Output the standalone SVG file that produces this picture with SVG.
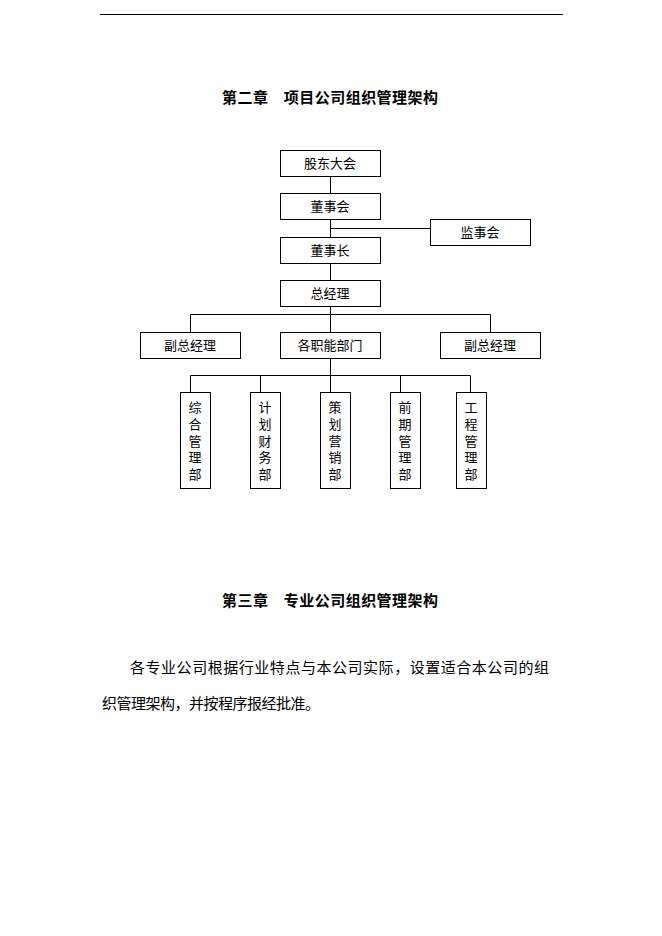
<svg xmlns="http://www.w3.org/2000/svg" width="662" height="936" viewBox="0 0 662 936">
<style>
text{font-family:"Liberation Sans","Noto Sans CJK SC",sans-serif;fill:#000}
.b{fill:#fff;stroke:#000;stroke-width:1}
.l{font-size:13px;text-anchor:middle}
.v{font-size:13px;text-anchor:middle}
.h{font-size:15px;font-weight:bold}
.p{font-size:15px}
#conn line{stroke:#000;stroke-width:1}
</style>
<rect width="662" height="936" fill="#fff"/>
<line x1="100" y1="14.5" x2="563" y2="14.5" stroke="#000"/>
<text class="h" x="222" y="103" textLength="216">第二章　项目公司组织管理架构</text>
<g id="conn">
<line x1="330.5" y1="176" x2="330.5" y2="193"/>
<line x1="330.5" y1="219" x2="330.5" y2="237"/>
<line x1="330.5" y1="228.5" x2="430" y2="228.5"/>
<line x1="330.5" y1="263" x2="330.5" y2="280"/>
<line x1="330.5" y1="306" x2="330.5" y2="332"/>
<line x1="190.5" y1="314.5" x2="490.5" y2="314.5"/>
<line x1="190.5" y1="314.5" x2="190.5" y2="332"/>
<line x1="490.5" y1="314.5" x2="490.5" y2="332"/>
<line x1="330.5" y1="358" x2="330.5" y2="392"/>
<line x1="190.5" y1="375.5" x2="470.5" y2="375.5"/>
<line x1="190.5" y1="375.5" x2="190.5" y2="392"/>
<line x1="260.5" y1="375.5" x2="260.5" y2="392"/>
<line x1="400.5" y1="375.5" x2="400.5" y2="392"/>
<line x1="470.5" y1="375.5" x2="470.5" y2="392"/>
</g>
<g id="n1"><rect class="b" x="280.5" y="150.5" width="100" height="26"/><text class="l" x="330" y="168">股东大会</text></g>
<g id="n2"><rect class="b" x="280.5" y="193.5" width="100" height="26"/><text class="l" x="330" y="211">董事会</text></g>
<g id="n3"><rect class="b" x="430.5" y="219.5" width="100" height="26"/><text class="l" x="480" y="237">监事会</text></g>
<g id="n4"><rect class="b" x="280.5" y="237.5" width="100" height="26"/><text class="l" x="330" y="255">董事长</text></g>
<g id="n5"><rect class="b" x="280.5" y="280.5" width="100" height="26"/><text class="l" x="330" y="298">总经理</text></g>
<g id="n6"><rect class="b" x="140.5" y="332.5" width="100" height="26"/><text class="l" x="190" y="350">副总经理</text></g>
<g id="n7"><rect class="b" x="280.5" y="332.5" width="100" height="26"/><text class="l" x="330" y="350">各职能部门</text></g>
<g id="n8"><rect class="b" x="440.5" y="332.5" width="100" height="26"/><text class="l" x="490" y="350">副总经理</text></g>
<g id="d1"><rect class="b" x="180.5" y="392.5" width="30" height="96"/><text class="v" x="195"><tspan x="195" y="412">综</tspan><tspan x="195" y="429">合</tspan><tspan x="195" y="446">管</tspan><tspan x="195" y="462">理</tspan><tspan x="195" y="479">部</tspan></text></g>
<g id="d2"><rect class="b" x="250.5" y="392.5" width="30" height="96"/><text class="v" x="265"><tspan x="265" y="412">计</tspan><tspan x="265" y="429">划</tspan><tspan x="265" y="446">财</tspan><tspan x="265" y="462">务</tspan><tspan x="265" y="479">部</tspan></text></g>
<g id="d3"><rect class="b" x="320.5" y="392.5" width="30" height="96"/><text class="v" x="335"><tspan x="335" y="412">策</tspan><tspan x="335" y="429">划</tspan><tspan x="335" y="446">营</tspan><tspan x="335" y="462">销</tspan><tspan x="335" y="479">部</tspan></text></g>
<g id="d4"><rect class="b" x="390.5" y="392.5" width="30" height="96"/><text class="v" x="405"><tspan x="405" y="412">前</tspan><tspan x="405" y="429">期</tspan><tspan x="405" y="446">管</tspan><tspan x="405" y="462">理</tspan><tspan x="405" y="479">部</tspan></text></g>
<g id="d5"><rect class="b" x="456.5" y="392.5" width="30" height="96"/><text class="v" x="471"><tspan x="471" y="412">工</tspan><tspan x="471" y="429">程</tspan><tspan x="471" y="446">管</tspan><tspan x="471" y="462">理</tspan><tspan x="471" y="479">部</tspan></text></g>
<text class="h" x="222" y="606" textLength="216">第三章　专业公司组织管理架构</text>
<text class="p" x="130" y="673" textLength="419">各专业公司根据行业特点与本公司实际，设置适合本公司的组</text>
<text class="p" x="102" y="709" textLength="218">织管理架构，并按程序报经批准。</text>
</svg>
